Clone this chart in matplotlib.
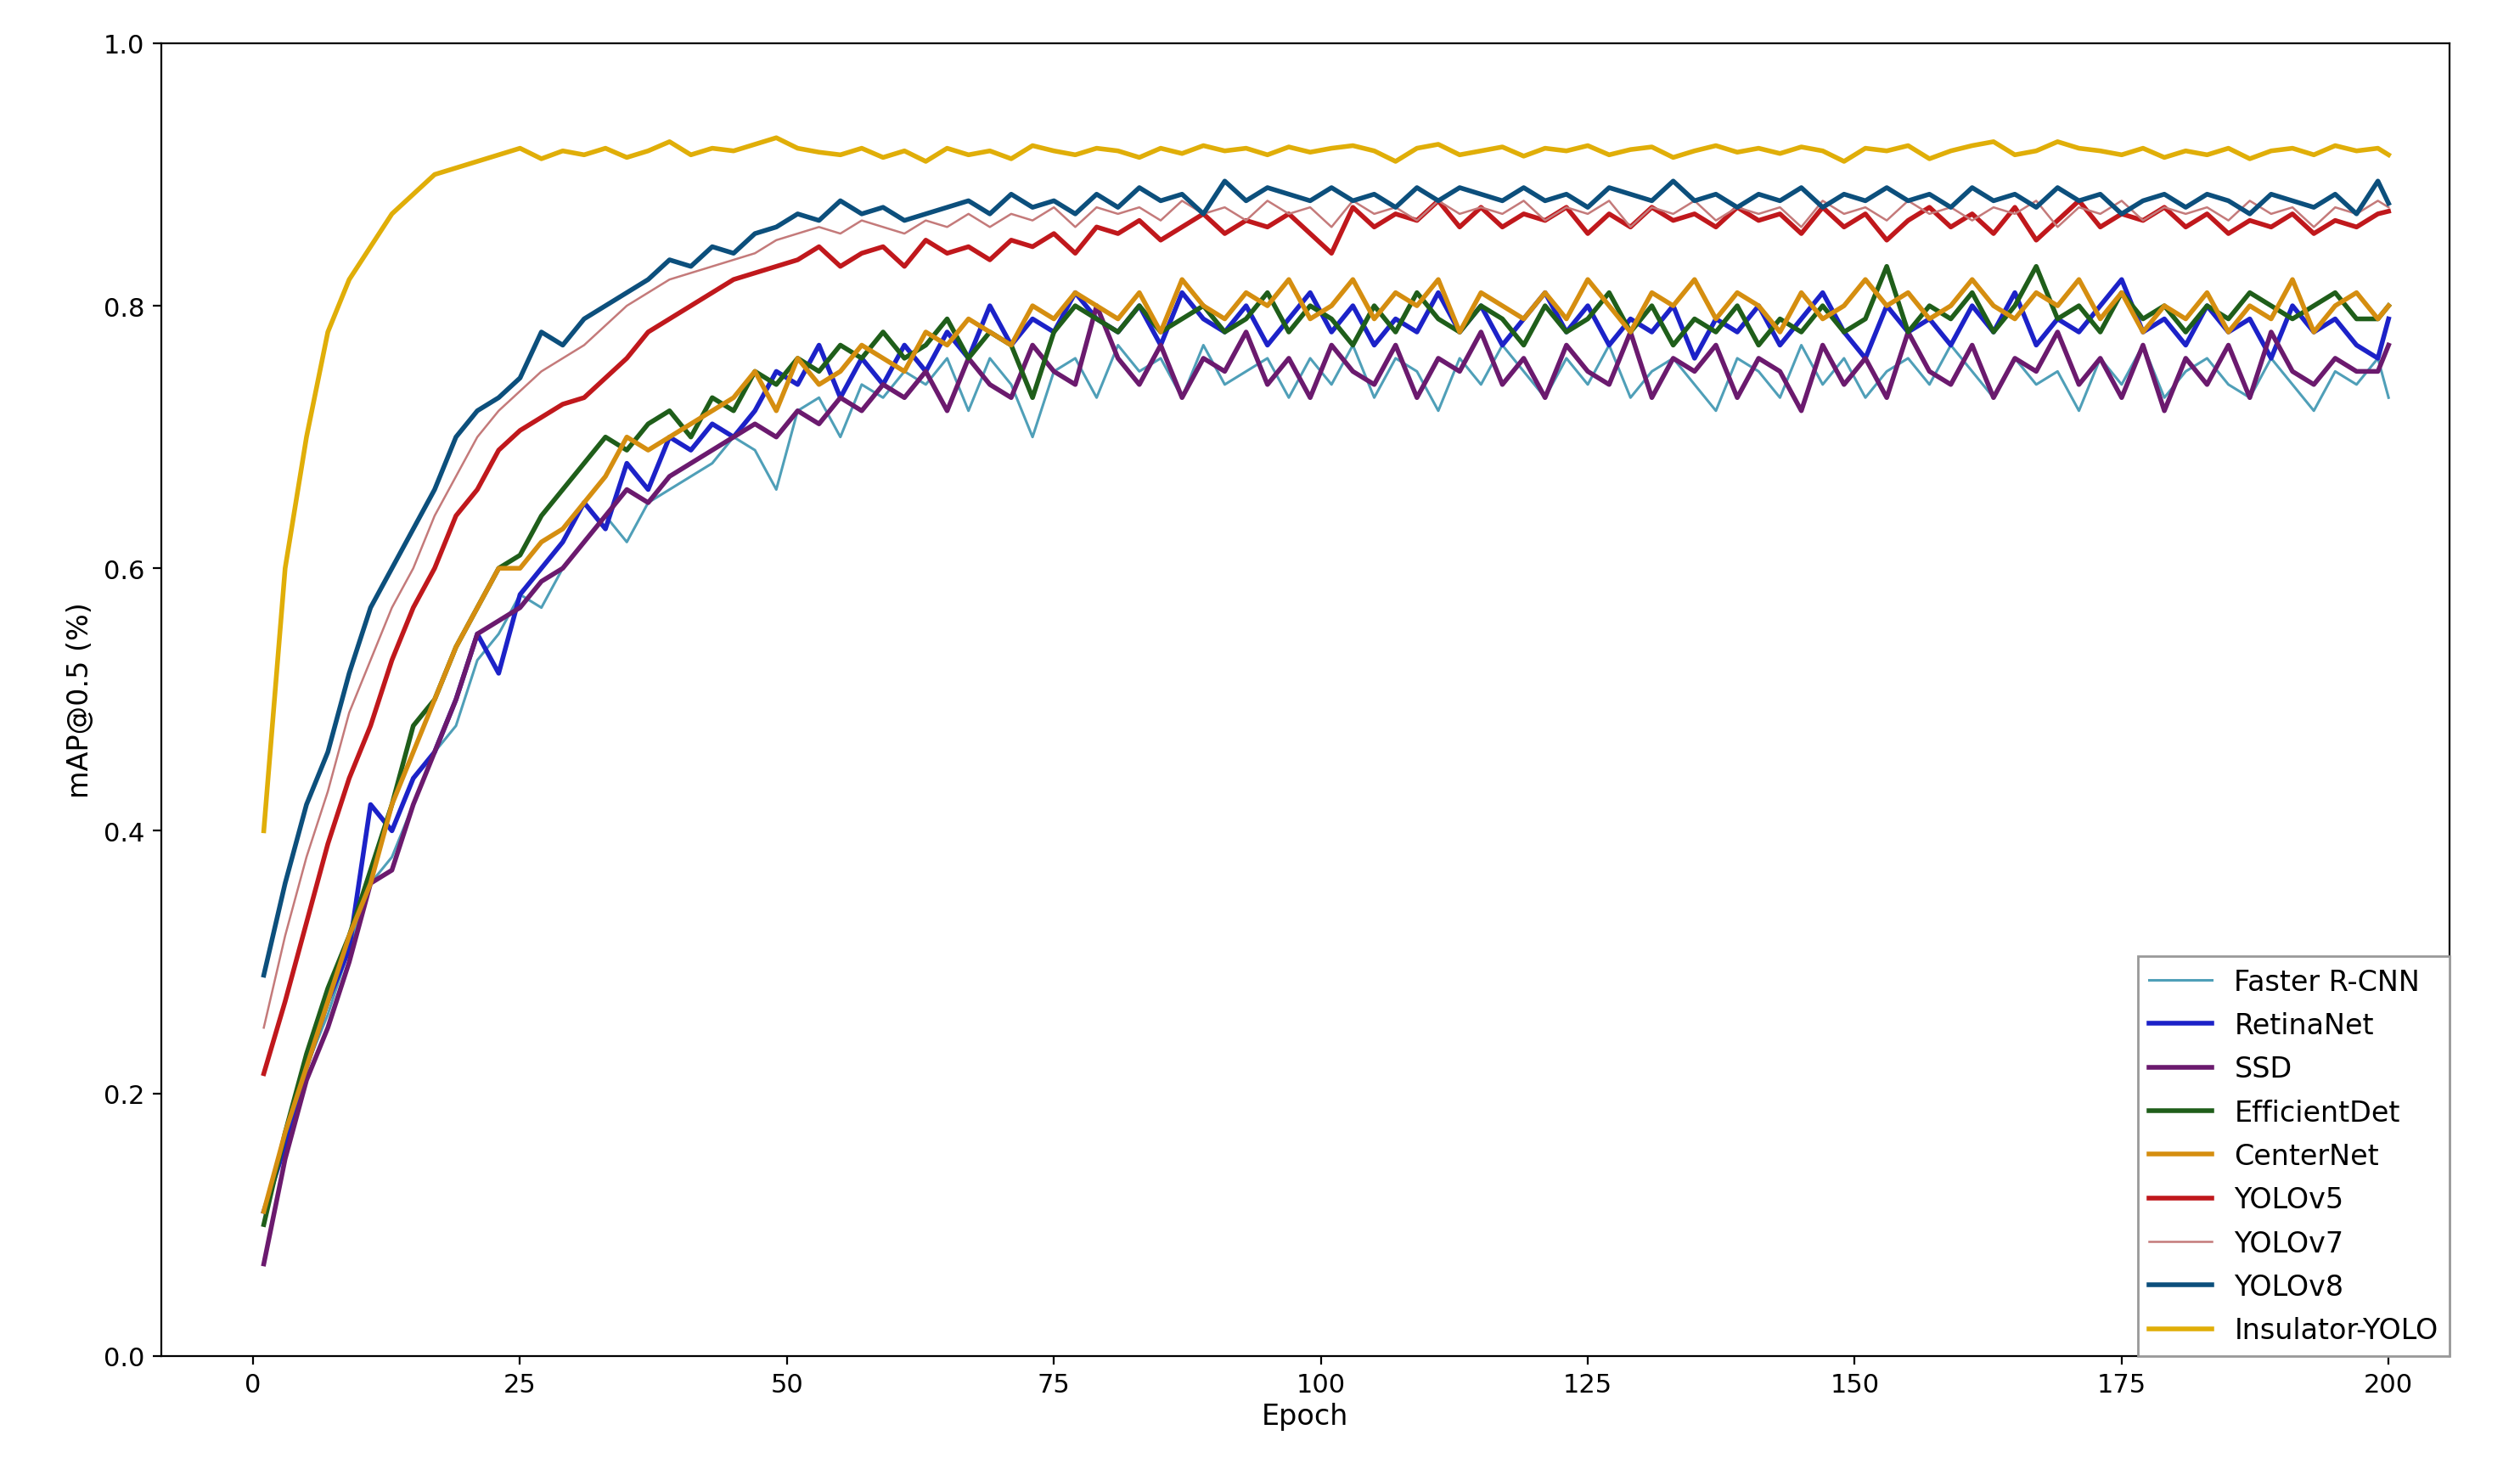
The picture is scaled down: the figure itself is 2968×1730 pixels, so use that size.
import matplotlib
matplotlib.use("Agg")
import matplotlib.pyplot as plt

epochs = list(range(1, 200, 2)) + [200]

insulator = [0.40,0.60,0.70,0.78,0.82,0.845,0.87,0.885,0.90,0.905,
0.91,0.915,0.92,0.912,0.918,0.915,0.92,0.913,0.918,0.925,
0.915,0.92,0.918,0.923,0.928,0.92,0.917,0.915,0.92,0.913,
0.918,0.91,0.92,0.915,0.918,0.912,0.922,0.918,0.915,0.92,
0.918,0.913,0.92,0.916,0.922,0.918,0.92,0.915,0.921,0.917,
0.92,0.922,0.918,0.91,0.92,0.923,0.915,0.918,0.921,0.914,
0.92,0.918,0.922,0.915,0.919,0.921,0.913,0.918,0.922,0.917,
0.92,0.916,0.921,0.918,0.91,0.92,0.918,0.922,0.912,0.918,
0.922,0.925,0.915,0.918,0.925,0.92,0.918,0.915,0.92,0.913,
0.918,0.915,0.92,0.912,0.918,0.92,0.915,0.922,0.918,0.92,0.915]

yolov8 = [0.29,0.36,0.42,0.46,0.52,0.57,0.60,0.63,0.66,0.70,
0.72,0.73,0.745,0.78,0.77,0.79,0.80,0.81,0.82,0.835,
0.83,0.845,0.84,0.855,0.86,0.87,0.865,0.88,0.87,0.875,
0.865,0.87,0.875,0.88,0.87,0.885,0.875,0.88,0.87,0.885,
0.875,0.89,0.88,0.885,0.87,0.895,0.88,0.89,0.885,0.88,
0.89,0.88,0.885,0.875,0.89,0.88,0.89,0.885,0.88,0.89,
0.88,0.885,0.875,0.89,0.885,0.88,0.895,0.88,0.885,0.875,
0.885,0.88,0.89,0.875,0.885,0.88,0.89,0.88,0.885,0.875,
0.89,0.88,0.885,0.875,0.89,0.88,0.885,0.87,0.88,0.885,
0.875,0.885,0.88,0.87,0.885,0.88,0.875,0.885,0.87,0.895,0.878]

yolov5 = [0.215,0.27,0.33,0.39,0.44,0.48,0.53,0.57,0.60,0.64,
0.66,0.69,0.705,0.715,0.725,0.73,0.745,0.76,0.78,0.79,
0.80,0.81,0.82,0.825,0.83,0.835,0.845,0.83,0.84,0.845,
0.83,0.85,0.84,0.845,0.835,0.85,0.845,0.855,0.84,0.86,
0.855,0.865,0.85,0.86,0.87,0.855,0.865,0.86,0.87,0.855,
0.84,0.875,0.86,0.87,0.865,0.88,0.86,0.875,0.86,0.87,
0.865,0.875,0.855,0.87,0.86,0.875,0.865,0.87,0.86,0.875,
0.865,0.87,0.855,0.875,0.86,0.87,0.85,0.865,0.875,0.86,
0.87,0.855,0.875,0.85,0.865,0.88,0.86,0.87,0.865,0.875,
0.86,0.87,0.855,0.865,0.86,0.87,0.855,0.865,0.86,0.87,0.872]

yolov7 = [0.25,0.32,0.38,0.43,0.49,0.53,0.57,0.60,0.64,0.67,
0.70,0.72,0.735,0.75,0.76,0.77,0.785,0.80,0.81,0.82,
0.825,0.83,0.835,0.84,0.85,0.855,0.86,0.855,0.865,0.86,
0.855,0.865,0.86,0.87,0.86,0.87,0.865,0.875,0.86,0.875,
0.87,0.875,0.865,0.88,0.87,0.875,0.865,0.88,0.87,0.875,
0.86,0.88,0.87,0.875,0.865,0.88,0.87,0.875,0.87,0.88,
0.865,0.875,0.87,0.88,0.86,0.875,0.87,0.88,0.865,0.875,
0.87,0.875,0.86,0.88,0.87,0.875,0.865,0.88,0.87,0.875,
0.865,0.875,0.87,0.88,0.86,0.875,0.87,0.88,0.865,0.875,
0.87,0.875,0.865,0.88,0.87,0.875,0.86,0.875,0.87,0.88,0.875]

faster_rcnn = [0.10,0.17,0.22,0.26,0.31,0.36,0.38,0.42,0.46,0.48,
0.53,0.55,0.58,0.57,0.60,0.62,0.64,0.62,0.65,0.66,
0.67,0.68,0.70,0.69,0.66,0.72,0.73,0.70,0.74,0.73,
0.75,0.74,0.76,0.72,0.76,0.74,0.70,0.75,0.76,0.73,
0.77,0.75,0.76,0.73,0.77,0.74,0.75,0.76,0.73,0.76,
0.74,0.77,0.73,0.76,0.75,0.72,0.76,0.74,0.77,0.75,
0.73,0.76,0.74,0.77,0.73,0.75,0.76,0.74,0.72,0.76,
0.75,0.73,0.77,0.74,0.76,0.73,0.75,0.76,0.74,0.77,
0.75,0.73,0.76,0.74,0.75,0.72,0.76,0.74,0.77,0.73,
0.75,0.76,0.74,0.73,0.76,0.74,0.72,0.75,0.74,0.76,0.73]

retinanet = [0.11,0.16,0.22,0.27,0.31,0.42,0.40,0.44,0.46,0.50,
0.55,0.52,0.58,0.60,0.62,0.65,0.63,0.68,0.66,0.70,
0.69,0.71,0.70,0.72,0.75,0.74,0.77,0.73,0.76,0.74,
0.77,0.75,0.78,0.76,0.80,0.77,0.79,0.78,0.81,0.79,
0.78,0.80,0.77,0.81,0.79,0.78,0.80,0.77,0.79,0.81,
0.78,0.80,0.77,0.79,0.78,0.81,0.78,0.80,0.77,0.79,
0.81,0.78,0.80,0.77,0.79,0.78,0.80,0.76,0.79,0.78,
0.80,0.77,0.79,0.81,0.78,0.76,0.80,0.78,0.79,0.77,
0.80,0.78,0.81,0.77,0.79,0.78,0.80,0.82,0.78,0.79,
0.77,0.80,0.78,0.79,0.76,0.80,0.78,0.79,0.77,0.76,0.79]

ssd = [0.07,0.15,0.21,0.25,0.30,0.36,0.37,0.42,0.46,0.50,
0.55,0.56,0.57,0.59,0.60,0.62,0.64,0.66,0.65,0.67,
0.68,0.69,0.70,0.71,0.70,0.72,0.71,0.73,0.72,0.74,
0.73,0.75,0.72,0.76,0.74,0.73,0.77,0.75,0.74,0.80,
0.76,0.74,0.77,0.73,0.76,0.75,0.78,0.74,0.76,0.73,
0.77,0.75,0.74,0.77,0.73,0.76,0.75,0.78,0.74,0.76,
0.73,0.77,0.75,0.74,0.78,0.73,0.76,0.75,0.77,0.73,
0.76,0.75,0.72,0.77,0.74,0.76,0.73,0.78,0.75,0.74,
0.77,0.73,0.76,0.75,0.78,0.74,0.76,0.73,0.77,0.72,
0.76,0.74,0.77,0.73,0.78,0.75,0.74,0.76,0.75,0.75,0.77]

efficientdet = [0.10,0.17,0.23,0.28,0.32,0.37,0.42,0.48,0.50,0.54,
0.57,0.60,0.61,0.64,0.66,0.68,0.70,0.69,0.71,0.72,
0.70,0.73,0.72,0.75,0.74,0.76,0.75,0.77,0.76,0.78,
0.76,0.77,0.79,0.76,0.78,0.77,0.73,0.78,0.80,0.79,
0.78,0.80,0.78,0.79,0.80,0.78,0.79,0.81,0.78,0.80,
0.79,0.77,0.80,0.78,0.81,0.79,0.78,0.80,0.79,0.77,
0.80,0.78,0.79,0.81,0.78,0.80,0.77,0.79,0.78,0.80,
0.77,0.79,0.78,0.80,0.78,0.79,0.83,0.78,0.80,0.79,
0.81,0.78,0.80,0.83,0.79,0.80,0.78,0.81,0.79,0.80,
0.78,0.80,0.79,0.81,0.80,0.79,0.80,0.81,0.79,0.79,0.80]

centernet = [0.11,0.17,0.22,0.27,0.32,0.36,0.42,0.46,0.50,0.54,
0.57,0.60,0.60,0.62,0.63,0.65,0.67,0.70,0.69,0.70,
0.71,0.72,0.73,0.75,0.72,0.76,0.74,0.75,0.77,0.76,
0.75,0.78,0.77,0.79,0.78,0.77,0.80,0.79,0.81,0.80,
0.79,0.81,0.78,0.82,0.80,0.79,0.81,0.80,0.82,0.79,
0.80,0.82,0.79,0.81,0.80,0.82,0.78,0.81,0.80,0.79,
0.81,0.79,0.82,0.80,0.78,0.81,0.80,0.82,0.79,0.81,
0.80,0.78,0.81,0.79,0.80,0.82,0.80,0.81,0.79,0.80,
0.82,0.80,0.79,0.81,0.80,0.82,0.79,0.81,0.78,0.80,
0.79,0.81,0.78,0.80,0.79,0.82,0.78,0.80,0.81,0.79,0.80]

labels = ["Faster R-CNN", "RetinaNet", "SSD", "EfficientDet", "CenterNet",
          "YOLOv5", "YOLOv7", "YOLOv8", "Insulator-YOLO"]
series = [faster_rcnn, retinanet, ssd, efficientdet, centernet,
          yolov5, yolov7, yolov8, insulator]
colors = ["#4f9fb8", "#1c22c8", "#6b1a6e", "#1f5e1a", "#d58e10",
          "#c0181c", "#c47a7a", "#0c4f7c", "#e0ae08"]
widths = [1.1, 2.0, 2.0, 2.0, 2.0, 2.0, 0.9, 2.0, 2.0]

fig = plt.figure(figsize=(14.84, 8.655), dpi=200)
ax = fig.add_axes([0.064, 0.077, 0.908, 0.893])
for lab, ys, c, w in zip(labels, series, colors, widths):
    ax.plot(epochs, ys, color=c, lw=w, label=lab)

ax.set_xlim(-8.6, 205.7)
ax.set_ylim(0, 1.0)
ax.set_xticks([0, 25, 50, 75, 100, 125, 150, 175, 200])
ax.set_yticks([0.0, 0.2, 0.4, 0.6, 0.8, 1.0])
ax.tick_params(labelsize=11)
ax.set_xlabel("Epoch", fontsize=12, labelpad=2)
ax.set_ylabel("mAP@0.5 (%)", fontsize=12)
leg = ax.legend(loc="lower right", fontsize=12, fancybox=False, framealpha=1,
                borderaxespad=0.0, handlelength=2.2, labelspacing=0.55)
leg.get_frame().set_edgecolor("#999999")
fig.savefig("out.png", dpi=200)
